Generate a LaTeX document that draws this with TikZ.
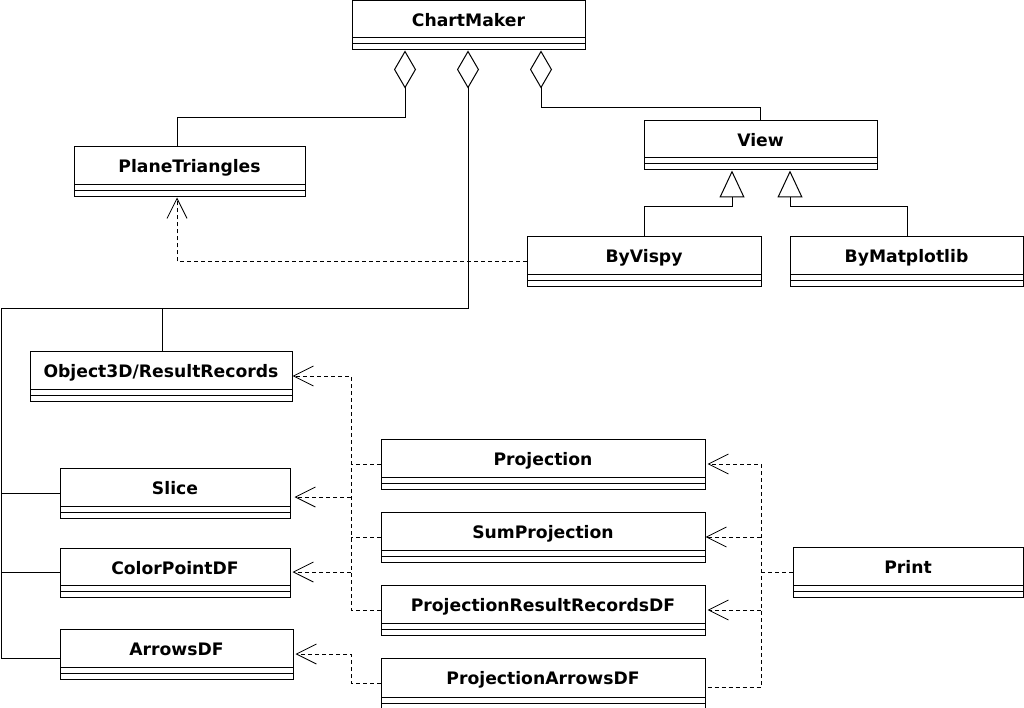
\documentclass[tikz,border=0pt]{standalone}
\usepackage{fontspec}
\setmainfont{DejaVu Sans}
\usetikzlibrary{arrows.meta,calc}
\tikzset{
  clsbox/.style={draw=black, line width=1pt, inner sep=0pt, fill=white},
  clstext/.style={font=\fontsize{17.2}{20}\selectfont\bfseries, inner sep=0pt, anchor=base},
  clsline/.style={draw=black, line width=1pt},
  conn/.style={draw=black, line width=1pt},
  aggr/.style={conn, -{Diamond[open, length=38pt, width=22pt, line width=1pt]}},
  gen/.style={conn, -{Triangle[open, length=27pt, width=25pt, line width=1pt]}},
  dline/.style={conn, line width=1pt, dash pattern=on 4pt off 3pt},
  dep/.style={dline, -{Straight Barb[length=20pt, width=20pt, line width=0.8pt]}},
}
\newcommand\umlcls[6]{%
  \pgfmathsetmacro\clsw{#4-#2}%
  \pgfmathsetmacro\clsh{#5-#3}%
  \node[clsbox, minimum width=\clsw pt, minimum height=\clsh pt] (#1) at ({(#2+#4)/2},{(#3+#5)/2}) {};
  \node[clstext] (#1-name) at ({(#2+#4)/2},{#3+26}) {#6};
  \draw[clsline] (#2,{#5-12}) -- (#4,{#5-12});
  \draw[clsline] (#2,{#5-6}) -- (#4,{#5-6});
}
\begin{document}
\begin{tikzpicture}[x=1pt, y=-1pt]
\useasboundingbox (0,0) rectangle (1024,708);
\fill[white] (0,0) rectangle (1024,708);

\umlcls{cm}{352}{1}{585}{50}{ChartMaker}
\umlcls{pt}{74}{147}{305}{197}{PlaneTriangles}
\umlcls{view}{644}{121}{877}{170}{View}
\umlcls{vispy}{527}{237}{761}{287}{ByVispy}
\umlcls{mpl}{790}{237}{1023}{287}{ByMatplotlib}
\umlcls{obj}{30}{351}{292}{401}{Object3D/ResultRecords}
\umlcls{slice}{60}{468}{290}{518}{Slice}
\umlcls{cpdf}{60}{548}{290}{597}{ColorPointDF}
\umlcls{adf}{60}{629}{293}{679}{ArrowsDF}
\umlcls{proj}{381}{439}{705}{489}{Projection}
\umlcls{sump}{381}{512}{705}{562}{SumProjection}
\umlcls{prr}{381}{585}{705}{635}{ProjectionResultRecordsDF}
\umlcls{pad}{381}{658}{705}{709}{ProjectionArrowsDF}
\umlcls{print}{793}{547}{1023}{597}{Print}

% aggregations
\draw[aggr] (pt.north -| 177,0) |- (405,118) -- (cm.south -| 405,0);
\draw[aggr] (adf.west |- 0,658) -- (1.5,658) -- (1.5,308) -- (468,308) -- (cm.south -| 468,0);
\draw[conn] (slice.west) -- (1.5,493);
\draw[conn] (cpdf.west |- 0,572) -- (1.5,572);
\draw[conn] (obj.north -| 162,0) -- (162,308);
\draw[aggr] (view.north) |- (541,108) -- (cm.south -| 541,0);

% generalizations
\draw[gen] (vispy.north -| 644,0) |- (732,207) -- (view.south -| 732,0);
\draw[gen] (mpl.north -| 907,0) |- (790,207) -- (view.south -| 790,0);

% dependencies
\draw[dep] (vispy.west) -| (pt.south -| 177,0);
\draw[dep] (prr.west) -| (351,376) -- (obj.east);
\draw[dline] (proj.west) -- (351,464);
\draw[dline] (sump.west) -- (351,537);
\draw[dep, shorten >=4pt] (351,497) -- (slice.east |- 0,497);
\draw[dep, shorten >=2pt] (351,572) -- (cpdf.east |- 0,572);
\draw[dep, shorten >=2pt] (pad.west) -| (351,654) -- (adf.east);

\draw[dep, shorten >=2pt] ([xshift=2pt]pad.east |- 0,687) -| (761,464) -- (proj.east);
\draw[dline] (print.west) -- (761,572);
\draw[dep] (761,537) -- (sump.east);
\draw[dep, shorten >=2pt] (761,610) -- (prr.east);
\end{tikzpicture}
\end{document}
